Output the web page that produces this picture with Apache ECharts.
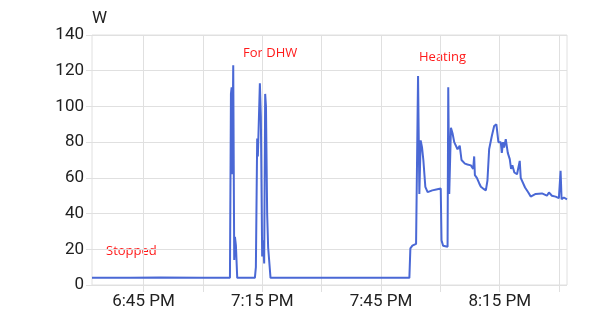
<!DOCTYPE html>
<html>
<head>
<meta charset="utf-8">
<script src="https://cdn.jsdelivr.net/npm/echarts@6/dist/echarts.min.js"></script>
<style>
html,body{margin:0;padding:0;background:#fff;}
#chart{width:609px;height:325px;}
</style>
</head>
<body>
<div id="chart"></div>
<script>
// minutes after 18:00 (6:00 PM)
var minutes = [
  32.0, 41.7, 49.2, 59.3, 66.85,
  67.10, 67.28, 67.43, 67.68, 67.93, 68.11, 68.36, 68.69,
  73.15, 73.40, 73.73, 73.90, 74.41, 74.66, 74.99, 75.24, 75.50, 75.75, 75.95, 76.25, 76.50, 76.75, 77.10,
  90.0, 100.0, 112.18,
  112.43, 112.94, 113.44, 113.87, 114.37, 114.70, 115.03, 115.38, 115.71, 116.21, 116.79, 117.2, 117.97, 118.98, 120.1,
  120.3, 120.7, 121.83, 122.00, 122.25, 122.68, 123.08, 123.51, 123.94, 124.34, 124.9, 125.35, 125.85, 126.21,
  126.54, 126.86, 127.22, 127.72, 128.30, 128.55, 128.73, 129.23, 129.81, 130.24, 130.82, 131.50, 131.9, 132.33,
  133.01, 133.6, 134.16, 134.67, 135.27, 135.53, 135.86, 136.11, 136.53, 137.04, 137.54, 137.87, 138.20,
  138.70, 139.38, 140.06, 140.31, 140.72, 141.40, 142.23, 142.83, 144.09, 145.68, 146.93, 147.44, 148.19, 149.12,
  149.95, 150.38, 150.63, 151.21, 152.0
];
var watts = [
  4, 4, 4.2, 4, 4,
  107, 110.7, 62, 123, 14, 27, 22, 4,
  4, 10, 82, 72, 113, 94, 16, 25, 12, 107, 100, 40, 21, 14, 4,
  4, 4, 4,
  20.5, 22, 22, 23, 117, 51, 81, 77, 70, 55, 52, 53, 53, 53.5, 54,
  25, 22, 21.4, 110.7, 51, 88, 85, 80, 79, 76, 78, 70, 71, 68,
  69, 67.5, 66.6, 67, 65, 72, 61.5, 60, 57, 55, 54, 53, 58.5, 76,
  83.4, 89, 90, 80, 80, 74, 80, 77, 81.7, 74, 70.5, 65, 67,
  63, 62, 69.5, 60, 59, 54.6, 51.8, 49.5, 51, 51.3, 50, 51.8, 50, 49.5,
  48.6, 64, 48, 49, 48
];
var startMinute = 32;   // 6:32 PM
var endMinute = 152;    // 8:32 PM
var gridMinutes = [45, 60, 75, 90, 105, 120, 135, 150];
var labelMinutes = [45, 75, 105, 135];
var annotations = [
  {text: 'Stopped', left: 106, top: 245},
  {text: 'For DHW', left: 243, top: 47},
  {text: 'Heating', left: 419, top: 51}
];

function fmtTime(m) {
  var total = Math.round(m);
  var h24 = 18 + Math.floor(total / 60);
  var mm = total % 60;
  var h = h24 % 12; if (h === 0) h = 12;
  return h + ':' + (mm < 10 ? '0' + mm : mm) + ' ' + (h24 >= 12 ? 'PM' : 'AM');
}
var seriesData = minutes.map(function (m, i) { return [m, watts[i]]; });

var gridColor = '#e0e0e0';
var chart = echarts.init(document.getElementById('chart'), null, {renderer: 'canvas'});
chart.setOption({
  animation: false,
  backgroundColor: '#ffffff',
  grid: {left: 92, right: 42, top: 35, bottom: 40, show: true, borderColor: gridColor, borderWidth: 1, backgroundColor: 'transparent'},
  xAxis: {
    type: 'value',
    min: startMinute,
    max: endMinute,
    axisLine: {show: false},
    axisTick: {show: true, length: 7, lineStyle: {color: gridColor}, customValues: gridMinutes},
    splitLine: {show: true, lineStyle: {color: gridColor, width: 1}},
    axisLabel: {
      color: '#212121', fontSize: 17, fontFamily: 'Roboto', margin: 8,
      customValues: labelMinutes,
      formatter: function (val) { return fmtTime(val); }
    }
  },
  yAxis: {
    type: 'value',
    min: 0, max: 140, interval: 20,
    name: 'W',
    nameLocation: 'end',
    nameGap: 8,
    nameTextStyle: {color: '#212121', fontSize: 17, fontFamily: 'Roboto', align: 'left'},
    axisLine: {show: false},
    axisTick: {show: true, length: 6, lineStyle: {color: gridColor}},
    splitLine: {show: true, lineStyle: {color: gridColor, width: 1}},
    axisLabel: {color: '#212121', fontSize: 17, fontFamily: 'Roboto', margin: 8}
  },
  series: [{
    type: 'line',
    data: seriesData,
    showSymbol: false,
    symbol: 'none',
    lineStyle: {color: '#4a68d5', width: 2},
    itemStyle: {color: '#4a68d5'}
  }],
  graphic: annotations.map(function (a) {
    return {type: 'text', left: a.left, top: a.top, silent: true,
      style: {text: a.text, fill: '#ff1a1a', fontSize: 13, fontFamily: 'Open Sans'}};
  })
});
</script>
</body>
</html>
